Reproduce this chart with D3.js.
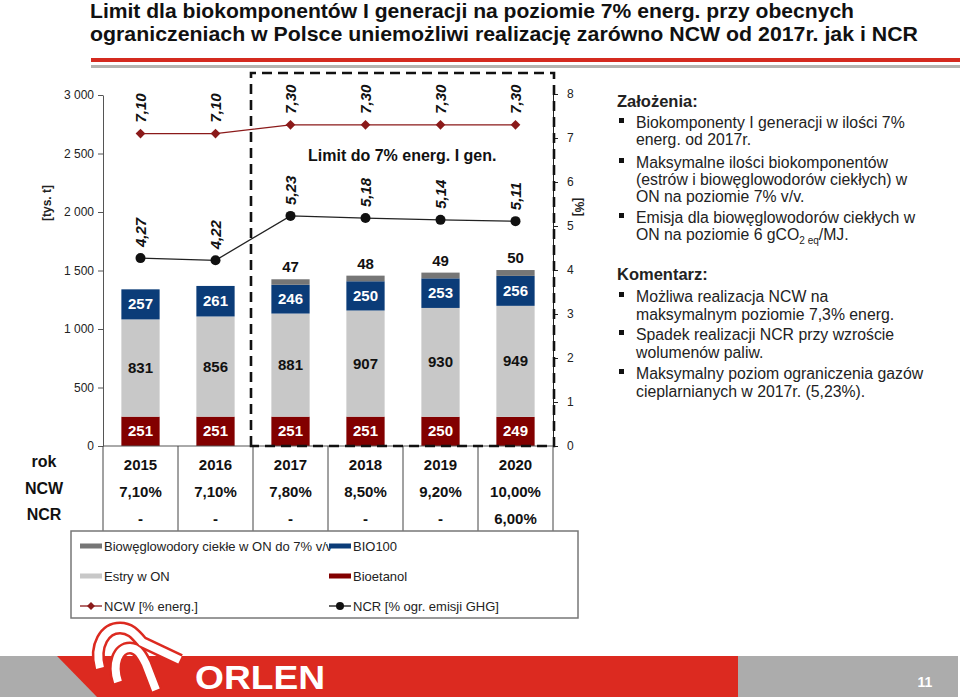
<!DOCTYPE html>
<html><head><meta charset="utf-8">
<script src="https://cdn.jsdelivr.net/npm/d3@7"></script>
<style>
html,body{margin:0;padding:0;background:#fff;}
svg{display:block;font-family:"Liberation Sans",Arial,sans-serif;}
</style></head>
<body>
<svg id="c" width="960" height="697"></svg>
<script>
const years = ["2015","2016","2017","2018","2019","2020"];
const bioetanol = [251,251,251,251,250,249];
const estry = [831,856,881,907,930,949];
const bio100 = [257,261,246,250,253,256];
const bioweglo = [0,0,47,48,49,50];
const ncw = [7.10,7.10,7.30,7.30,7.30,7.30];
const ncr = [4.27,4.22,5.23,5.18,5.14,5.11];
const ncwTable = ["7,10%","7,10%","7,80%","8,50%","9,20%","10,00%"];
const ncrTable = ["-","-","-","-","-","6,00%"];
const leftTicks = [0,500,1000,1500,2000,2500,3000];
const rightTicks = [0,1,2,3,4,5,6,7,8];
const seriesNames = ["Bioetanol","Estry w ON","BIO100","Biowęglowodory ciekłe w ON do 7% v/v"];
const seriesColors = ["#820000","#c8c8c8","#0b3c78","#767676"];
const labelColors = ["#fff","#111","#fff","#111"];

const svg = d3.select("#c");

// title
const title1 = "Limit dla biokomponentów I generacji na poziomie 7% energ. przy obecnych";
const title2 = "ograniczeniach w Polsce uniemożliwi realizację zarówno NCW od 2017r. jak i NCR";
svg.append("text").attr("x",90).attr("y",18).attr("font-size",21).attr("font-weight","bold")
  .attr("textLength",764).attr("lengthAdjust","spacingAndGlyphs").attr("fill","#111").text(title1);
svg.append("text").attr("x",90).attr("y",41).attr("font-size",21).attr("font-weight","bold")
  .attr("textLength",828).attr("lengthAdjust","spacingAndGlyphs").attr("fill","#111").text(title2);
svg.append("rect").attr("x",91).attr("y",58).attr("width",869).attr("height",4).attr("fill","#d42a1f");
svg.append("rect").attr("x",91).attr("y",65).attr("width",869).attr("height",3).attr("fill","#b4b4b0");

// scales
const x = d3.scaleBand().domain(years).range([103,553]).padding(0);
const yL = d3.scaleLinear().domain([0,3000]).range([446,95]);
const yR = d3.scaleLinear().domain([0,8]).range([446,94]);
const bw = x.bandwidth()*0.51;
const cx = d => x(d)+x.bandwidth()/2;

// stacked bars
const rows = years.map((y,i)=>({year:y, s0:bioetanol[i], s1:estry[i], s2:bio100[i], s3:bioweglo[i]}));
const keys = ["s0","s1","s2","s3"];
const stack = d3.stack().keys(keys)(rows);
const g = svg.append("g");
stack.forEach((layer,k)=>{
  g.selectAll(null).data(layer).enter().append("rect")
    .attr("x",d=>cx(d.data.year)-bw/2).attr("width",bw)
    .attr("y",d=>yL(d[1])).attr("height",d=>yL(d[0])-yL(d[1]))
    .attr("fill",seriesColors[k]);
});
stack.forEach((layer,k)=>{
  g.selectAll(null).data(layer.filter(d=>d.data[keys[k]]>0)).enter().append("text")
    .attr("x",d=>cx(d.data.year))
    .attr("y",d=> k===3 ? yL(d[1])-7 : (yL(d[0])+yL(d[1]))/2+5)
    .attr("text-anchor","middle").attr("font-size",15).attr("font-weight","bold")
    .attr("fill",labelColors[k]).text(d=>d.data[keys[k]]);
});

// left axis
const fmt = d => d3.format(",")(d).replace(/,/g," ");
const axL = svg.append("g").attr("transform","translate(103,0)")
  .call(d3.axisLeft(yL).tickValues(leftTicks).tickFormat(fmt).tickSize(5).tickSizeOuter(0).tickPadding(4));
axL.selectAll("text").attr("font-size",12).attr("fill","#222").attr("font-family","Liberation Sans,Arial,sans-serif");
axL.selectAll("line,path").attr("stroke","#555");
svg.append("text").attr("transform","translate(51,203) rotate(-90)").attr("text-anchor","middle")
  .attr("font-size",12).attr("font-weight","bold").attr("fill","#222").text("[tys. t]");

// right axis
const axR = svg.append("g").attr("transform","translate(553,0)")
  .call(d3.axisRight(yR).tickValues(rightTicks).tickFormat(d=>d).tickSize(5).tickSizeOuter(0).tickPadding(9));
axR.selectAll("text").attr("font-size",12).attr("fill","#222").attr("font-family","Liberation Sans,Arial,sans-serif");
axR.selectAll("line,path").attr("stroke","#222");
svg.append("text").attr("transform","translate(575,207) rotate(90)").attr("text-anchor","middle")
  .attr("font-size",12).attr("font-weight","bold").attr("fill","#222").text("[%]");

// x axis & table grid
svg.append("line").attr("x1",103).attr("x2",553).attr("y1",446).attr("y2",446).attr("stroke","#555");
const bounds = years.map(d=>x(d)).concat([x(years[years.length-1])+x.bandwidth()]);
svg.selectAll(null).data(bounds).enter().append("line")
  .attr("x1",d=>d).attr("x2",d=>d).attr("y1",446).attr("y2",531).attr("stroke","#444").attr("stroke-width",1);

// dashed box
svg.append("path").attr("d",`M${x("2017")-2},446 L${x("2017")-2},73 L554,73 L554,446 Z`)
  .attr("fill","none").attr("stroke","#111").attr("stroke-width",2.6).attr("stroke-dasharray","10,6");

// lines
const lineNcw = d3.line().x((d,i)=>cx(years[i])).y(d=>yR(d));
svg.append("path").attr("d",lineNcw(ncw)).attr("fill","none").attr("stroke","#8b1a1a").attr("stroke-width",1.3);
svg.append("path").attr("d",lineNcw(ncr)).attr("fill","none").attr("stroke","#222").attr("stroke-width",1.3);
svg.selectAll(null).data(ncw).enter().append("path")
  .attr("d",d3.symbol().type(d3.symbolDiamond2).size(60))
  .attr("transform",(d,i)=>`translate(${cx(years[i])},${yR(d)})`).attr("fill","#8b1a1a");
svg.selectAll(null).data(ncr).enter().append("circle")
  .attr("cx",(d,i)=>cx(years[i])).attr("cy",d=>yR(d)).attr("r",5).attr("fill","#111");
const lab = (arr) => svg.selectAll(null).data(arr).enter().append("text")
  .attr("transform",(d,i)=>`translate(${cx(years[i])+5},${yR(d)-11}) rotate(-90)`)
  .attr("font-size",15).attr("font-weight","bold").attr("font-style","italic").attr("fill","#111")
  .text(d=>d.toFixed(2).replace(".",","));
lab(ncw); lab(ncr);

svg.append("text").attr("x",308).attr("y",161).attr("font-size",16).attr("font-weight","bold").attr("fill","#111")
  .text("Limit do 7% energ. I gen.");

// table
const rowLabels = ["rok","NCW","NCR"];
const labY = [467,494,520];
const valY = [470,497,524];
svg.selectAll(null).data(rowLabels).enter().append("text")
  .attr("x",44).attr("y",(d,i)=>labY[i]).attr("text-anchor","middle").attr("font-size",16).attr("font-weight","bold")
  .attr("fill","#111").text(d=>d);
[years,ncwTable,ncrTable].forEach((arr,r)=>{
  svg.selectAll(null).data(arr).enter().append("text")
    .attr("x",(d,i)=>cx(years[i])).attr("y",valY[r]).attr("text-anchor","middle")
    .attr("font-size",15).attr("font-weight","bold").attr("fill","#111").text(d=>d);
});

// legend
svg.append("rect").attr("x",71).attr("y",531).attr("width",507).attr("height",87)
  .attr("fill","#fff").attr("stroke","#777").attr("stroke-width",1.5);
const legItems = [
  {name:seriesNames[3], type:"bar", color:seriesColors[3], x:80, y:546},
  {name:seriesNames[2], type:"bar", color:seriesColors[2], x:329, y:546},
  {name:seriesNames[1], type:"bar", color:seriesColors[1], x:80, y:576},
  {name:seriesNames[0], type:"bar", color:seriesColors[0], x:329, y:576},
  {name:"NCW [% energ.]", type:"ncw", color:"#8b1a1a", x:80, y:606},
  {name:"NCR [% ogr. emisji GHG]", type:"ncr", color:"#111", x:329, y:606}
];
legItems.forEach(it=>{
  if(it.type==="bar"){
    svg.append("rect").attr("x",it.x).attr("y",it.y-2.5).attr("width",22).attr("height",5).attr("fill",it.color);
  } else {
    svg.append("line").attr("x1",it.x).attr("x2",it.x+22).attr("y1",it.y).attr("y2",it.y).attr("stroke",it.color).attr("stroke-width",1.3);
    if(it.type==="ncw") svg.append("path").attr("d",d3.symbol().type(d3.symbolDiamond2).size(40)).attr("transform",`translate(${it.x+11},${it.y})`).attr("fill",it.color);
    else svg.append("circle").attr("cx",it.x+11).attr("cy",it.y).attr("r",4).attr("fill",it.color);
  }
  svg.append("text").attr("x",it.x+24).attr("y",it.y+4.5).attr("font-size",13).attr("fill","#222").text(it.name);
});

// right text panel
const panel = svg.append("g").attr("fill","#222");
const head = (t,y)=>panel.append("text").attr("x",617).attr("y",y).attr("font-size",16.5).attr("font-weight","bold").text(t);
const bullet = (y)=>panel.append("rect").attr("x",619).attr("y",y-10).attr("width",5).attr("height",5).attr("fill","#111");
const line = (t,y)=>panel.append("text").attr("x",636).attr("y",y).attr("font-size",15.8).text(t);
head("Założenia:",107);
bullet(128); line("Biokomponenty I generacji w ilości 7%",128); line("energ. od 2017r.",145);
bullet(168); line("Maksymalne ilości biokomponentów",168); line("(estrów i biowęglowodorów ciekłych)  w",185); line("ON na poziomie 7% v/v.",202);
bullet(223); line("Emisja dla biowęglowodorów ciekłych w",223);
const t6 = panel.append("text").attr("x",636).attr("y",240).attr("font-size",15.8);
t6.append("tspan").text("ON na poziomie 6 gCO");
t6.append("tspan").attr("font-size",10).attr("dy",4).text("2 eq");
t6.append("tspan").attr("dy",-4).text("/MJ.");
head("Komentarz:",280);
bullet(302); line("Możliwa realizacja NCW na",302); line("maksymalnym poziomie 7,3% energ.",320);
bullet(340); line("Spadek realizacji NCR przy wzroście",340); line("wolumenów paliw.",358);
bullet(379); line("Maksymalny poziom ograniczenia gazów",379); line("cieplarnianych w 2017r. (5,23%).",397);

// footer
svg.append("rect").attr("x",0).attr("y",656).attr("width",958).attr("height",41).attr("fill","#acacac");
svg.append("path").attr("d","M57,656 L738,656 L738,697 L97,697 Z").attr("fill","#dc2a20");
// eagle-like logo
const logo = svg.append("g").attr("fill","none").attr("stroke-linecap","butt");
const p1 = "M100,668 C94,645 105,628 120,628 C130,628 135,634 142,642 L180,660";
const p2 = "M118,682 C112,664 118,648 130,648 C138,648 142,656 146,664 L156,690";
[p1,p2].forEach(p=>{
  logo.append("path").attr("d",p).attr("stroke","#dc2a20").attr("stroke-width",13);
});
[p1,p2].forEach(p=>{
  logo.append("path").attr("d",p).attr("stroke","#fff").attr("stroke-width",8);
});
svg.append("text").attr("x",195).attr("y",689).attr("font-size",34).attr("font-weight","bold")
  .attr("textLength",130).attr("lengthAdjust","spacingAndGlyphs").attr("fill","#fff").text("ORLEN");
svg.append("text").attr("x",925).attr("y",687).attr("text-anchor","middle").attr("font-size",14).attr("font-weight","bold")
  .attr("fill","#fff").text("11");
</script>
</body></html>
